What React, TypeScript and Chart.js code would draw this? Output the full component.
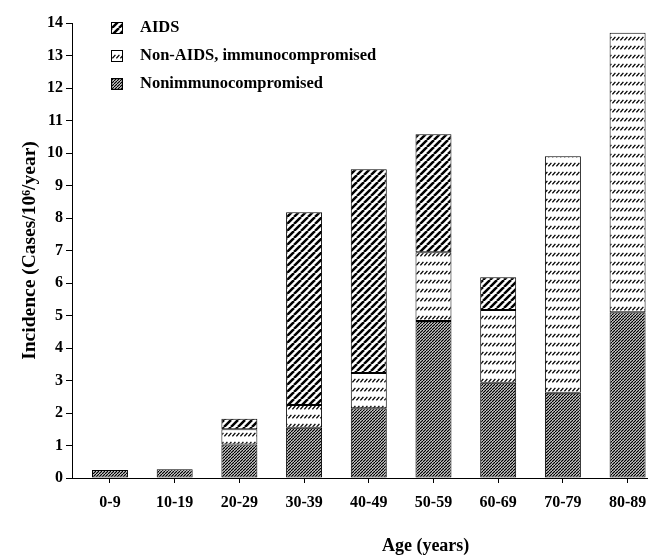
import React, { useEffect, useRef } from "react";
import { Chart, registerables } from "chart.js";

Chart.register(...registerables);

// ---- data ----
const categories = ["0-9", "10-19", "20-29", "30-39", "40-49", "50-59", "60-69", "70-79", "80-89"];
const nonimmunocompromised = [0.25, 0.27, 1.03, 1.55, 2.15, 4.83, 2.93, 2.62, 5.1];
const nonAidsImmunocompromised = [0, 0, 0.47, 0.7, 1.08, 2.12, 2.24, 7.28, 8.6];
const aids = [0, 0, 0.32, 5.93, 6.27, 3.63, 1.01, 0, 0];
const seriesLabels = ["Nonimmunocompromised", "Non-AIDS, immunocompromised", "AIDS"];
const yTickValues = [0, 1, 2, 3, 4, 5, 6, 7, 8, 9, 10, 11, 12, 13, 14];
const xTitle = "Age (years)";
const yTitle = "Incidence (Cases/10\u2076/year)";

const FONT = "'Liberation Serif', 'Times New Roman', serif";
const X_MIN = -0.587;
const X_MAX = 8.3;

function stripePattern(ctx: CanvasRenderingContext2D, period: number, lineWidth: number) {
  const c = document.createElement("canvas");
  c.width = period;
  c.height = period;
  const g = c.getContext("2d")!;
  g.fillStyle = "#fff";
  g.fillRect(0, 0, period, period);
  g.strokeStyle = "#000";
  g.lineWidth = lineWidth;
  g.beginPath();
  for (let k = -1; k <= 1; k++) {
    g.moveTo(k * period, period);
    g.lineTo(k * period + period, 0);
  }
  g.stroke();
  return ctx.createPattern(c, "repeat")!;
}

function dashRowPattern(ctx: CanvasRenderingContext2D) {
  const w = 4;
  const h = 9;
  const c = document.createElement("canvas");
  c.width = w;
  c.height = h;
  const g = c.getContext("2d")!;
  g.fillStyle = "#fff";
  g.fillRect(0, 0, w, h);
  g.strokeStyle = "#000";
  g.lineWidth = 1.3;
  g.beginPath();
  g.moveTo(0.4, 4.3);
  g.lineTo(3.4, 0.9);
  g.stroke();
  return ctx.createPattern(c, "repeat")!;
}

const legendPlugin = {
  id: "boxLegend",
  afterDraw(chart: any) {
    const ctx = chart.ctx as CanvasRenderingContext2D;
    const area = chart.chartArea;
    const ds = chart.data.datasets.slice().reverse();
    ctx.save();
    ctx.font = `bold 16.5px ${FONT}`;
    ctx.textBaseline = "middle";
    ctx.textAlign = "left";
    ds.forEach((d: any, i: number) => {
      const cy = area.top + 5 + i * 28;
      const bx = area.left + 39;
      ctx.fillStyle = d.backgroundColor;
      ctx.fillRect(bx, cy - 6, 12, 12);
      ctx.strokeStyle = "#000";
      ctx.lineWidth = 1;
      ctx.strokeRect(bx + 0.5, cy - 5.5, 11, 11);
      ctx.fillStyle = "#000";
      ctx.fillText(d.label, area.left + 68, cy);
    });
    // x-axis title (placed right of centre as in the reference)
    ctx.font = `bold 18px ${FONT}`;
    ctx.textAlign = "center";
    ctx.fillText(xTitle, area.left + (area.right - area.left) * 0.615, area.bottom + 68);
    ctx.restore();
  },
};

export default function App() {
  const ref = useRef<HTMLCanvasElement | null>(null);

  useEffect(() => {
    const canvas = ref.current!;
    const ctx = canvas.getContext("2d")!;
    const pNon = stripePattern(ctx, 3, 1.3);
    const pNonAids = dashRowPattern(ctx);
    const pAids = stripePattern(ctx, 7, 2.5);

    const toXY = (arr: number[]) => arr.map((v, i) => ({ x: i, y: v }));

    const common = {
      borderColor: "#000",
      borderWidth: 1,
      borderSkipped: false,
      barPercentage: 0.556,
      categoryPercentage: 1,
    };

    const chart = new Chart(canvas, {
      type: "bar",
      data: {
        datasets: [
          { label: seriesLabels[0], data: toXY(nonimmunocompromised), backgroundColor: pNon, ...common },
          { label: seriesLabels[1], data: toXY(nonAidsImmunocompromised), backgroundColor: pNonAids, ...common },
          { label: seriesLabels[2], data: toXY(aids), backgroundColor: pAids, ...common },
        ] as any,
      },
      options: {
        animation: false,
        responsive: false,
        maintainAspectRatio: false,
        layout: { padding: { top: 23, right: 4, left: 0, bottom: 0 } },
        plugins: { legend: { display: false }, tooltip: { enabled: false } },
        scales: {
          x: {
            type: "linear",
            stacked: true,
            offset: false,
            bounds: "data",
            min: X_MIN,
            max: X_MAX,
            afterBuildTicks: (s: any) => {
              s.ticks = categories.map((_, i) => ({ value: i }));
              s.min = X_MIN;
              s.max = X_MAX;
            },
            afterFit: (s: any) => {
              s.height = 77;
              s.paddingLeft = 0;
              s.paddingRight = 0;
            },
            ticks: {
              callback: (v: any) => categories[v] ?? "",
              font: { family: FONT, size: 16, weight: "bold" },
              color: "#000",
              padding: 10,
              maxRotation: 0,
              autoSkip: false,
              includeBounds: false,
            },
            grid: { offset: false, drawOnChartArea: false, tickLength: 5, color: "#000", tickColor: "#000" },
            border: { color: "#000", width: 1 },
          },
          y: {
            stacked: true,
            min: yTickValues[0],
            max: yTickValues[yTickValues.length - 1],
            afterBuildTicks: (s: any) => {
              s.ticks = yTickValues.map((v) => ({ value: v }));
            },
            afterFit: (s: any) => {
              s.width = 72;
            },
            ticks: {
              font: { family: FONT, size: 16, weight: "bold" },
              color: "#000",
              padding: 3,
            },
            title: {
              display: true,
              text: yTitle,
              font: { family: FONT, size: 19.5, weight: "bold" },
              color: "#000",
              padding: { top: 18, bottom: 0 },
            },
            grid: { drawOnChartArea: false, tickLength: 6, color: "#000", tickColor: "#000" },
            border: { color: "#000", width: 1 },
          },
        },
      } as any,
      plugins: [legendPlugin],
    });
    return () => chart.destroy();
  }, []);

  return (
    <div style={{ position: "fixed", left: 0, top: 0, width: 651, height: 555, background: "#fff" }}>
      <canvas ref={ref} width={651} height={555} style={{ display: "block" }} />
    </div>
  );
}
